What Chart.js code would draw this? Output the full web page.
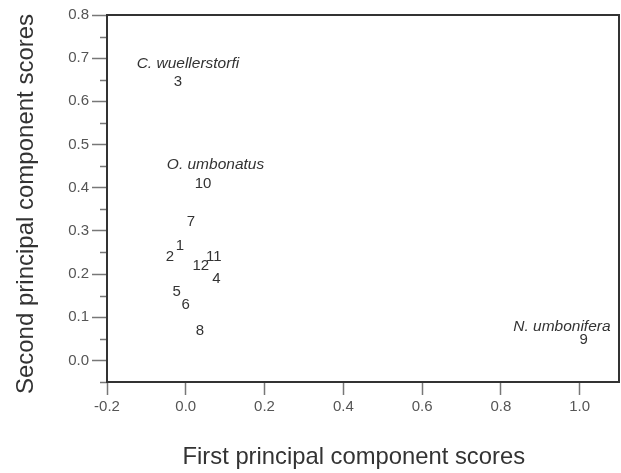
<!DOCTYPE html>
<html>
<head>
<meta charset="utf-8">
<script src="https://cdn.jsdelivr.net/npm/chart.js@4/dist/chart.umd.min.js"></script>
<style>
  html, body { margin: 0; padding: 0; background: #ffffff; }
  #wrap { width: 621px; height: 473px; }
</style>
</head>
<body>
<div id="wrap"><canvas id="pca" width="621" height="473"></canvas></div>
<script>
// Sample numbers and their scores on the first two principal components
const sampleIds = ['1', '2', '3', '4', '5', '6', '7', '8', '9', '10', '11', '12'];
const pc1Scores = [-0.015, -0.04, -0.02, 0.078, -0.023, 0.0, 0.013, 0.036, 1.010, 0.044, 0.071, 0.038];
const pc2Scores = [0.265, 0.24, 0.645, 0.19, 0.158, 0.129, 0.322, 0.069, 0.048, 0.41, 0.239, 0.219];

// Species that characterise particular samples
const speciesSamples = ['3', '10', '9'];
const speciesNames = ['C. wuellerstorfi', 'O. umbonatus', 'N. umbonifera'];

// Axis ticks
const xTickValues = [-0.2, 0.0, 0.2, 0.4, 0.6, 0.8, 1.0];
const xTickLabels = ['-0.2', '0.0', '0.2', '0.4', '0.6', '0.8', '1.0'];
const yTickValues = [0.0, 0.1, 0.2, 0.3, 0.4, 0.5, 0.6, 0.7, 0.8];
const yTickLabels = ['0.0', '0.1', '0.2', '0.3', '0.4', '0.5', '0.6', '0.7', '0.8'];

const xTitle = 'First principal component scores';
const yTitle = 'Second principal component scores';

const FONT = '"Liberation Sans", Arial, Helvetica, sans-serif';
const INK = '#333333';

// Placement of species names relative to their sample number
const speciesPlacement = {
  '3':  { dx: 10,   dy: -18.7, align: 'center' },
  '10': { dx: 12.4, dy: -19,   align: 'center' },
  '9':  { dx: 27,   dy: -13.3, align: 'right' }
};

const points = sampleIds.map((id, i) => ({ x: pc1Scores[i], y: pc2Scores[i] }));

// Box round the plot area plus short minor ticks on the y axis
const framePlugin = {
  id: 'frame',
  afterDraw(chart) {
    const { ctx, chartArea: a } = chart;
    const ys = chart.scales.y;
    ctx.save();
    ctx.strokeStyle = '#777777';
    ctx.lineWidth = 1.5;
    yTickValues.forEach(v => {
      const m = v - 0.05;
      if (m < ys.min - 1e-9) return;
      const py = Math.round(ys.getPixelForValue(m)) + 0.5;
      ctx.beginPath();
      ctx.moveTo(a.left - 7, py);
      ctx.lineTo(a.left, py);
      ctx.stroke();
    });
    ctx.strokeStyle = '#333333';
    ctx.lineWidth = 2;
    ctx.strokeRect(a.left, a.top, a.right - a.left, a.bottom - a.top);
    ctx.restore();
  }
};

// Sample numbers written at each point, species names beside them
const labelPlugin = {
  id: 'sampleLabels',
  afterDatasetsDraw(chart) {
    const { ctx } = chart;
    const meta = chart.getDatasetMeta(0);
    ctx.save();
    ctx.fillStyle = INK;
    ctx.textAlign = 'center';
    ctx.textBaseline = 'middle';
    ctx.font = '15px ' + FONT;
    meta.data.forEach((el, i) => {
      ctx.fillText(sampleIds[i], el.x, el.y);
    });
    ctx.font = 'italic 15.5px ' + FONT;
    speciesSamples.forEach((id, k) => {
      const el = meta.data[sampleIds.indexOf(id)];
      const p = speciesPlacement[id];
      ctx.textAlign = p.align;
      ctx.fillText(speciesNames[k], el.x + p.dx, el.y + p.dy);
    });
    ctx.restore();
  }
};

// Axis titles
const titlePlugin = {
  id: 'axisTitles',
  afterDraw(chart) {
    const { ctx, chartArea: a } = chart;
    ctx.save();
    ctx.fillStyle = INK;
    ctx.textBaseline = 'alphabetic';
    ctx.textAlign = 'center';
    ctx.font = '23.8px ' + FONT;
    ctx.fillText(xTitle, a.left + (a.right - a.left) * 0.482, 464);
    ctx.translate(33, (a.top + a.bottom) / 2 + 5.5);
    ctx.rotate(-Math.PI / 2);
    ctx.font = '24px ' + FONT;
    ctx.fillText(yTitle, 0, 0);
    ctx.restore();
  }
};

new Chart(document.getElementById('pca'), {
  type: 'scatter',
  data: {
    datasets: [{
      data: points,
      pointRadius: 0,
      pointHoverRadius: 0,
      showLine: false
    }]
  },
  options: {
    responsive: false,
    animation: false,
    devicePixelRatio: 1,
    events: [],
    layout: { padding: { top: 15, right: 2, left: 0, bottom: 0 } },
    plugins: {
      legend: { display: false },
      tooltip: { enabled: false }
    },
    scales: {
      x: {
        type: 'linear',
        min: -0.2,
        max: 1.1,
        afterBuildTicks: s => { s.ticks = xTickValues.map(v => ({ value: v })); },
        afterFit: s => { s.height = 91; },
        border: { display: false },
        grid: {
          drawOnChartArea: false,
          drawTicks: true,
          tickLength: 13,
          tickColor: '#777777',
          tickWidth: 1.5
        },
        ticks: {
          padding: 3,
          color: '#555555',
          font: { family: FONT, size: 15 },
          maxRotation: 0,
          autoSkip: false,
          callback: (v, i) => xTickLabels[i]
        }
      },
      y: {
        type: 'linear',
        min: -0.05,
        max: 0.8,
        afterBuildTicks: s => { s.ticks = yTickValues.map(v => ({ value: v })); },
        afterFit: s => { s.width = 107; },
        border: { display: false },
        grid: {
          drawOnChartArea: false,
          drawTicks: true,
          tickLength: 15,
          tickColor: '#777777',
          tickWidth: 1.5
        },
        ticks: {
          padding: 3,
          color: '#555555',
          font: { family: FONT, size: 15 },
          autoSkip: false,
          callback: (v, i) => yTickLabels[i]
        }
      }
    }
  },
  plugins: [framePlugin, labelPlugin, titlePlugin]
});
</script>
</body>
</html>
